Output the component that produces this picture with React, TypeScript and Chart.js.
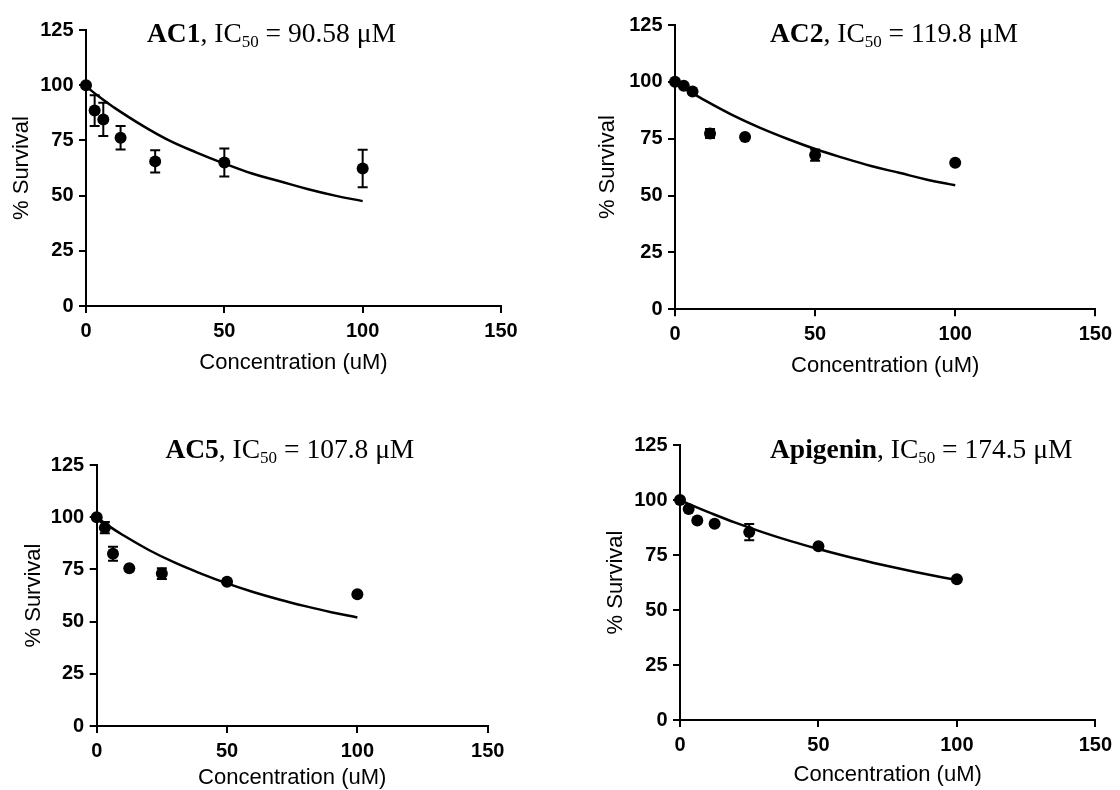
import React, { useEffect, useRef } from "react";
import { Chart, registerables } from "chart.js";

Chart.register(...registerables);

// ---------- data ----------
const concentrations = [0, 3.125, 6.25, 12.5, 25, 50, 100];
const curveX = [0, 5, 10, 20, 30, 40, 50, 60, 70, 80, 90, 100];
const xTicks = [0, 50, 100, 150];
const yTicks = [0, 25, 50, 75, 100, 125];

const compoundNames = ["AC1", "AC2", "AC5", "Apigenin"];
const ic50Labels = ["90.58", "119.8", "107.8", "174.5"];

const ac1Mean = [100, 88.5, 84.5, 76.2, 65.5, 65, 62.3];
const ac1Sem = [0, 7, 7.5, 5.3, 5, 6.3, 8.5];
const ac1Curve = [99.5, 94.5, 90, 82, 75, 69.5, 64.5, 60, 56.5, 53, 50, 47.5];

const ac2Mean = [100, 98.3, 95.8, 77.3, 75.8, 67.8, 64.4];
const ac2Sem = [0, 0, 0, 2, 0, 2.5, 0];
const ac2Curve = [100, 96, 92.3, 85.7, 80, 75, 70.5, 66.6, 63, 60, 57, 54.5];

const ac5Mean = [100, 95, 82.5, 75.5, 73, 69.1, 63.1];
const ac5Sem = [0, 2.7, 3.3, 0, 2.6, 0, 0];
const ac5Curve = [100, 95.5, 91.5, 84.3, 78.2, 73, 68.3, 64.2, 60.6, 57.4, 54.5, 52];

const apiMean = [100, 95.9, 90.7, 89.2, 85.4, 79, 64];
const apiSem = [0, 0, 0, 0, 3.7, 0, 0];
const apiCurve = [100, 97.2, 94.6, 89.7, 85.3, 81.3, 77.7, 74.4, 71.4, 68.6, 66, 63.6];

const xAxisTitle = "Concentration (uM)";
const yAxisTitle = "% Survival";

// ---------- layout (positions / styles) ----------
const SANS = '"Liberation Sans", Arial, Helvetica, sans-serif';
const SERIF = '"Liberation Serif", "Times New Roman", Times, serif';

type PanelLayout = {
  ox: number; oy: number; w: number; h: number;
  pad: { left: number; right: number; top: number; bottom: number };
  yWidth: number; xHeight: number;
  tdx: number; tdy: number;
};

const layouts: PanelLayout[] = [
  { ox: 0, oy: 0, w: 560, h: 395, pad: { left: 10.7, right: 59, top: 30, bottom: 21.3 }, yWidth: 75.3, xHeight: 67.7, tdx: 61, tdy: 11.5 },
  { ox: 560, oy: 0, w: 560, h: 395, pad: { left: 37, right: 20, top: 25, bottom: 18.2 }, yWidth: 78, xHeight: 67.5, tdx: 95, tdy: 16.7 },
  { ox: 0, oy: 395, w: 560, h: 395, pad: { left: 23.2, right: 72.3, top: 70, bottom: 0.7 }, yWidth: 73.5, xHeight: 63.3, tdx: 68.7, tdy: -6.7 },
  { ox: 560, oy: 395, w: 560, h: 395, pad: { left: 44.5, right: 24, top: 50, bottom: 4 }, yWidth: 75.5, xHeight: 66, tdx: 90, tdy: 13.3 },
];

const panelData = [
  { mean: ac1Mean, sem: ac1Sem, curve: ac1Curve },
  { mean: ac2Mean, sem: ac2Sem, curve: ac2Curve },
  { mean: ac5Mean, sem: ac5Sem, curve: ac5Curve },
  { mean: apiMean, sem: apiSem, curve: apiCurve },
];

function Panel({ index }: { index: number }) {
  const ref = useRef<HTMLCanvasElement | null>(null);
  const lay = layouts[index];
  const d = panelData[index];

  useEffect(() => {
    if (!ref.current) return;

    const titlePlugin = {
      id: "richTitle" + index,
      afterDraw(chart: any) {
        const ctx = chart.ctx;
        const { left, top } = chart.chartArea;
        let x = left + lay.tdx;
        const y = top + lay.tdy;
        const segs = [
          { t: compoundNames[index], font: `bold 27.5px ${SERIF}`, dy: 0 },
          { t: ", IC", font: `27.5px ${SERIF}`, dy: 0 },
          { t: "50", font: `17px ${SERIF}`, dy: 5 },
          { t: " = " + ic50Labels[index] + " \u03bcM", font: `27.5px ${SERIF}`, dy: 0 },
        ];
        ctx.save();
        ctx.fillStyle = "#000";
        ctx.textAlign = "left";
        ctx.textBaseline = "alphabetic";
        for (const s of segs) {
          ctx.font = s.font;
          ctx.fillText(s.t, x, y + s.dy);
          x += ctx.measureText(s.t).width;
        }
        ctx.restore();
      },
    };

    const errorPlugin = {
      id: "errBars" + index,
      afterDatasetsDraw(chart: any) {
        const ctx = chart.ctx;
        const xs = chart.scales.x;
        const ys = chart.scales.y;
        ctx.save();
        ctx.strokeStyle = "#000";
        ctx.lineWidth = 2;
        concentrations.forEach((c, i) => {
          const e = d.sem[i];
          if (!e) return;
          const px = xs.getPixelForValue(c);
          const y1 = ys.getPixelForValue(d.mean[i] + e);
          const y2 = ys.getPixelForValue(d.mean[i] - e);
          ctx.beginPath();
          ctx.moveTo(px, y1);
          ctx.lineTo(px, y2);
          ctx.moveTo(px - 5, y1);
          ctx.lineTo(px + 5, y1);
          ctx.moveTo(px - 5, y2);
          ctx.lineTo(px + 5, y2);
          ctx.stroke();
        });
        ctx.restore();
      },
    };

    const chart = new Chart(ref.current, {
      type: "scatter",
      data: {
        datasets: [
          {
            type: "line",
            data: curveX.map((x, i) => ({ x, y: d.curve[i] })),
            borderColor: "#000",
            borderWidth: 2.5,
            pointRadius: 0,
            tension: 0.4,
            fill: false,
            clip: false,
          } as any,
          {
            type: "scatter",
            data: concentrations.map((x, i) => ({ x, y: d.mean[i] })),
            backgroundColor: "#000",
            borderColor: "#000",
            pointRadius: 6,
            pointBorderWidth: 0,
            clip: false,
          } as any,
        ],
      },
      options: {
        responsive: false,
        animation: false,
        events: [],
        layout: { padding: lay.pad },
        plugins: {
          legend: { display: false },
          tooltip: { enabled: false },
          title: { display: false },
        },
        scales: {
          x: {
            type: "linear",
            position: "bottom",
            min: xTicks[0],
            max: xTicks[xTicks.length - 1],
            afterBuildTicks: (s: any) => {
              s.ticks = xTicks.map((v) => ({ value: v }));
            },
            afterFit: (s: any) => {
              s.height = lay.xHeight;
            },
            grid: {
              display: true,
              drawOnChartArea: false,
              drawTicks: true,
              tickLength: 7,
              tickWidth: 2,
              tickColor: "#000",
              color: "#000",
              lineWidth: 2,
            },
            border: { display: true, color: "#000", width: 2 },
            ticks: {
              color: "#000",
              autoSkip: false,
              maxRotation: 0,
              padding: 8,
              font: { family: SANS, size: 20, weight: "bold", lineHeight: 1 },
              callback: (v: any) => String(v),
            },
            title: {
              display: true,
              text: xAxisTitle,
              color: "#000",
              padding: 0,
              font: { family: SANS, size: 22, lineHeight: 1 },
            },
          },
          y: {
            type: "linear",
            position: "left",
            min: yTicks[0],
            max: yTicks[yTicks.length - 1],
            afterBuildTicks: (s: any) => {
              s.ticks = yTicks.map((v) => ({ value: v }));
            },
            afterFit: (s: any) => {
              s.width = lay.yWidth;
            },
            grid: {
              display: true,
              drawOnChartArea: false,
              drawTicks: true,
              tickLength: 7,
              tickWidth: 2,
              tickColor: "#000",
              color: "#000",
              lineWidth: 2,
            },
            border: { display: true, color: "#000", width: 2 },
            ticks: {
              color: "#000",
              autoSkip: false,
              padding: 5.5,
              font: { family: SANS, size: 20, weight: "bold", lineHeight: 1 },
              callback: (v: any) => String(v),
            },
            title: {
              display: true,
              text: yAxisTitle,
              color: "#000",
              padding: 0,
              font: { family: SANS, size: 22, lineHeight: 1 },
            },
          },
        },
      } as any,
      plugins: [titlePlugin, errorPlugin],
    });

    return () => chart.destroy();
  }, [index]);

  return (
    <canvas
      ref={ref}
      width={lay.w}
      height={lay.h}
      style={{ position: "absolute", left: lay.ox, top: lay.oy, width: lay.w, height: lay.h }}
    />
  );
}

export default function App() {
  return (
    <div style={{ position: "absolute", left: 0, top: 0, width: 1120, height: 790, background: "#fff" }}>
      {compoundNames.map((_, i) => (
        <Panel key={i} index={i} />
      ))}
    </div>
  );
}
